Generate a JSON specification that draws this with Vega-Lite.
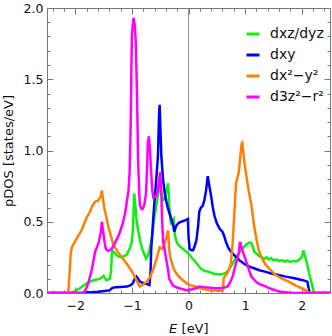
{
  "$schema": "https://vega.github.io/schema/vega-lite/v6.json",
  "width": 283,
  "height": 285,
  "autosize": {"type": "none"},
  "padding": {"left": 47, "top": 8, "right": 2, "bottom": 43},
  "config": {
    "font": "DejaVu Sans",
    "view": {"stroke": "#777", "strokeWidth": 1},
    "axis": {"domain": false, "grid": false, "tickColor": "#777", "labelColor": "#111", "titleColor": "#111", "labelFontSize": 12.5, "titleFontSize": 13, "titleFontWeight": "normal", "labelOverlap": false, "labelBound": false, "labelFlush": false},
    "legend": {"labelFontSize": 14, "labelColor": "#111"}
  },
  "datasets": {
    "curves": [
      {"E": -2.5, "pdos": 0, "orb": "dxz/dyz"},
      {"E": -2.1, "pdos": 0, "orb": "dxz/dyz"},
      {"E": -2.02, "pdos": 0.01, "orb": "dxz/dyz"},
      {"E": -1.92, "pdos": 0.033, "orb": "dxz/dyz"},
      {"E": -1.8, "pdos": 0.068, "orb": "dxz/dyz"},
      {"E": -1.68, "pdos": 0.09, "orb": "dxz/dyz"},
      {"E": -1.56, "pdos": 0.1, "orb": "dxz/dyz"},
      {"E": -1.5, "pdos": 0.12, "orb": "dxz/dyz"},
      {"E": -1.45, "pdos": 0.09, "orb": "dxz/dyz"},
      {"E": -1.39, "pdos": 0.1, "orb": "dxz/dyz"},
      {"E": -1.37, "pdos": 0.15, "orb": "dxz/dyz"},
      {"E": -1.35, "pdos": 0.3, "orb": "dxz/dyz"},
      {"E": -1.3, "pdos": 0.28, "orb": "dxz/dyz"},
      {"E": -1.24, "pdos": 0.255, "orb": "dxz/dyz"},
      {"E": -1.18, "pdos": 0.25, "orb": "dxz/dyz"},
      {"E": -1.09, "pdos": 0.27, "orb": "dxz/dyz"},
      {"E": -1.03, "pdos": 0.32, "orb": "dxz/dyz"},
      {"E": -1.0, "pdos": 0.36, "orb": "dxz/dyz"},
      {"E": -0.98, "pdos": 0.45, "orb": "dxz/dyz"},
      {"E": -0.96, "pdos": 0.7, "orb": "dxz/dyz"},
      {"E": -0.94, "pdos": 0.62, "orb": "dxz/dyz"},
      {"E": -0.92, "pdos": 0.52, "orb": "dxz/dyz"},
      {"E": -0.89, "pdos": 0.44, "orb": "dxz/dyz"},
      {"E": -0.85, "pdos": 0.36, "orb": "dxz/dyz"},
      {"E": -0.81, "pdos": 0.3, "orb": "dxz/dyz"},
      {"E": -0.75, "pdos": 0.24, "orb": "dxz/dyz"},
      {"E": -0.72, "pdos": 0.26, "orb": "dxz/dyz"},
      {"E": -0.69, "pdos": 0.3, "orb": "dxz/dyz"},
      {"E": -0.64, "pdos": 0.4, "orb": "dxz/dyz"},
      {"E": -0.6, "pdos": 0.54, "orb": "dxz/dyz"},
      {"E": -0.54, "pdos": 0.68, "orb": "dxz/dyz"},
      {"E": -0.51, "pdos": 0.76, "orb": "dxz/dyz"},
      {"E": -0.47, "pdos": 0.68, "orb": "dxz/dyz"},
      {"E": -0.45, "pdos": 0.65, "orb": "dxz/dyz"},
      {"E": -0.42, "pdos": 0.66, "orb": "dxz/dyz"},
      {"E": -0.38, "pdos": 0.74, "orb": "dxz/dyz"},
      {"E": -0.36, "pdos": 0.77, "orb": "dxz/dyz"},
      {"E": -0.34, "pdos": 0.61, "orb": "dxz/dyz"},
      {"E": -0.31, "pdos": 0.48, "orb": "dxz/dyz"},
      {"E": -0.28, "pdos": 0.51, "orb": "dxz/dyz"},
      {"E": -0.26, "pdos": 0.52, "orb": "dxz/dyz"},
      {"E": -0.24, "pdos": 0.4, "orb": "dxz/dyz"},
      {"E": -0.2, "pdos": 0.35, "orb": "dxz/dyz"},
      {"E": -0.16, "pdos": 0.33, "orb": "dxz/dyz"},
      {"E": -0.1, "pdos": 0.31, "orb": "dxz/dyz"},
      {"E": -0.04, "pdos": 0.29, "orb": "dxz/dyz"},
      {"E": 0.02, "pdos": 0.27, "orb": "dxz/dyz"},
      {"E": 0.05, "pdos": 0.25, "orb": "dxz/dyz"},
      {"E": 0.1, "pdos": 0.23, "orb": "dxz/dyz"},
      {"E": 0.14, "pdos": 0.21, "orb": "dxz/dyz"},
      {"E": 0.18, "pdos": 0.19, "orb": "dxz/dyz"},
      {"E": 0.22, "pdos": 0.17, "orb": "dxz/dyz"},
      {"E": 0.28, "pdos": 0.155, "orb": "dxz/dyz"},
      {"E": 0.34, "pdos": 0.15, "orb": "dxz/dyz"},
      {"E": 0.45, "pdos": 0.135, "orb": "dxz/dyz"},
      {"E": 0.55, "pdos": 0.13, "orb": "dxz/dyz"},
      {"E": 0.62, "pdos": 0.135, "orb": "dxz/dyz"},
      {"E": 0.66, "pdos": 0.14, "orb": "dxz/dyz"},
      {"E": 0.7, "pdos": 0.16, "orb": "dxz/dyz"},
      {"E": 0.75, "pdos": 0.185, "orb": "dxz/dyz"},
      {"E": 0.8, "pdos": 0.22, "orb": "dxz/dyz"},
      {"E": 0.84, "pdos": 0.255, "orb": "dxz/dyz"},
      {"E": 0.93, "pdos": 0.3, "orb": "dxz/dyz"},
      {"E": 1.02, "pdos": 0.34, "orb": "dxz/dyz"},
      {"E": 1.08, "pdos": 0.355, "orb": "dxz/dyz"},
      {"E": 1.11, "pdos": 0.35, "orb": "dxz/dyz"},
      {"E": 1.14, "pdos": 0.32, "orb": "dxz/dyz"},
      {"E": 1.16, "pdos": 0.29, "orb": "dxz/dyz"},
      {"E": 1.22, "pdos": 0.27, "orb": "dxz/dyz"},
      {"E": 1.26, "pdos": 0.255, "orb": "dxz/dyz"},
      {"E": 1.3, "pdos": 0.25, "orb": "dxz/dyz"},
      {"E": 1.34, "pdos": 0.24, "orb": "dxz/dyz"},
      {"E": 1.38, "pdos": 0.25, "orb": "dxz/dyz"},
      {"E": 1.42, "pdos": 0.235, "orb": "dxz/dyz"},
      {"E": 1.46, "pdos": 0.245, "orb": "dxz/dyz"},
      {"E": 1.5, "pdos": 0.23, "orb": "dxz/dyz"},
      {"E": 1.55, "pdos": 0.235, "orb": "dxz/dyz"},
      {"E": 1.6, "pdos": 0.225, "orb": "dxz/dyz"},
      {"E": 1.65, "pdos": 0.23, "orb": "dxz/dyz"},
      {"E": 1.7, "pdos": 0.22, "orb": "dxz/dyz"},
      {"E": 1.75, "pdos": 0.228, "orb": "dxz/dyz"},
      {"E": 1.8, "pdos": 0.218, "orb": "dxz/dyz"},
      {"E": 1.85, "pdos": 0.225, "orb": "dxz/dyz"},
      {"E": 1.9, "pdos": 0.222, "orb": "dxz/dyz"},
      {"E": 1.95, "pdos": 0.232, "orb": "dxz/dyz"},
      {"E": 1.99, "pdos": 0.245, "orb": "dxz/dyz"},
      {"E": 2.02, "pdos": 0.28, "orb": "dxz/dyz"},
      {"E": 2.03, "pdos": 0.3, "orb": "dxz/dyz"},
      {"E": 2.05, "pdos": 0.27, "orb": "dxz/dyz"},
      {"E": 2.08, "pdos": 0.23, "orb": "dxz/dyz"},
      {"E": 2.13, "pdos": 0.14, "orb": "dxz/dyz"},
      {"E": 2.19, "pdos": 0.045, "orb": "dxz/dyz"},
      {"E": 2.22, "pdos": 0, "orb": "dxz/dyz"},
      {"E": 2.5, "pdos": 0, "orb": "dxz/dyz"},

      {"E": -2.5, "pdos": 0, "orb": "dxy"},
      {"E": -1.9, "pdos": 0, "orb": "dxy"},
      {"E": -1.8, "pdos": 0.003, "orb": "dxy"},
      {"E": -1.6, "pdos": 0.008, "orb": "dxy"},
      {"E": -1.45, "pdos": 0.015, "orb": "dxy"},
      {"E": -1.39, "pdos": 0.02, "orb": "dxy"},
      {"E": -1.35, "pdos": 0.035, "orb": "dxy"},
      {"E": -1.3, "pdos": 0.04, "orb": "dxy"},
      {"E": -1.2, "pdos": 0.042, "orb": "dxy"},
      {"E": -1.09, "pdos": 0.045, "orb": "dxy"},
      {"E": -1.02, "pdos": 0.055, "orb": "dxy"},
      {"E": -0.98, "pdos": 0.07, "orb": "dxy"},
      {"E": -0.95, "pdos": 0.1, "orb": "dxy"},
      {"E": -0.92, "pdos": 0.115, "orb": "dxy"},
      {"E": -0.89, "pdos": 0.1, "orb": "dxy"},
      {"E": -0.86, "pdos": 0.08, "orb": "dxy"},
      {"E": -0.8, "pdos": 0.07, "orb": "dxy"},
      {"E": -0.75, "pdos": 0.065, "orb": "dxy"},
      {"E": -0.69, "pdos": 0.056, "orb": "dxy"},
      {"E": -0.67, "pdos": 0.15, "orb": "dxy"},
      {"E": -0.66, "pdos": 0.3, "orb": "dxy"},
      {"E": -0.63, "pdos": 0.48, "orb": "dxy"},
      {"E": -0.6, "pdos": 0.65, "orb": "dxy"},
      {"E": -0.56, "pdos": 0.85, "orb": "dxy"},
      {"E": -0.54, "pdos": 0.96, "orb": "dxy"},
      {"E": -0.52, "pdos": 1.25, "orb": "dxy"},
      {"E": -0.51, "pdos": 1.32, "orb": "dxy"},
      {"E": -0.5, "pdos": 1.2, "orb": "dxy"},
      {"E": -0.48, "pdos": 0.96, "orb": "dxy"},
      {"E": -0.45, "pdos": 0.8, "orb": "dxy"},
      {"E": -0.42, "pdos": 0.7, "orb": "dxy"},
      {"E": -0.39, "pdos": 0.64, "orb": "dxy"},
      {"E": -0.36, "pdos": 0.59, "orb": "dxy"},
      {"E": -0.32, "pdos": 0.54, "orb": "dxy"},
      {"E": -0.28, "pdos": 0.49, "orb": "dxy"},
      {"E": -0.25, "pdos": 0.43, "orb": "dxy"},
      {"E": -0.22, "pdos": 0.47, "orb": "dxy"},
      {"E": -0.18, "pdos": 0.49, "orb": "dxy"},
      {"E": -0.13, "pdos": 0.5, "orb": "dxy"},
      {"E": -0.06, "pdos": 0.51, "orb": "dxy"},
      {"E": -0.01, "pdos": 0.52, "orb": "dxy"},
      {"E": 0.0, "pdos": 0.4, "orb": "dxy"},
      {"E": 0.02, "pdos": 0.31, "orb": "dxy"},
      {"E": 0.05, "pdos": 0.3, "orb": "dxy"},
      {"E": 0.08, "pdos": 0.3, "orb": "dxy"},
      {"E": 0.11, "pdos": 0.33, "orb": "dxy"},
      {"E": 0.14, "pdos": 0.37, "orb": "dxy"},
      {"E": 0.17, "pdos": 0.47, "orb": "dxy"},
      {"E": 0.19, "pdos": 0.57, "orb": "dxy"},
      {"E": 0.22, "pdos": 0.6, "orb": "dxy"},
      {"E": 0.25, "pdos": 0.61, "orb": "dxy"},
      {"E": 0.28, "pdos": 0.65, "orb": "dxy"},
      {"E": 0.31, "pdos": 0.72, "orb": "dxy"},
      {"E": 0.34, "pdos": 0.82, "orb": "dxy"},
      {"E": 0.36, "pdos": 0.77, "orb": "dxy"},
      {"E": 0.4, "pdos": 0.68, "orb": "dxy"},
      {"E": 0.43, "pdos": 0.6, "orb": "dxy"},
      {"E": 0.46, "pdos": 0.54, "orb": "dxy"},
      {"E": 0.5, "pdos": 0.49, "orb": "dxy"},
      {"E": 0.55, "pdos": 0.45, "orb": "dxy"},
      {"E": 0.6, "pdos": 0.43, "orb": "dxy"},
      {"E": 0.63, "pdos": 0.4, "orb": "dxy"},
      {"E": 0.66, "pdos": 0.36, "orb": "dxy"},
      {"E": 0.7, "pdos": 0.32, "orb": "dxy"},
      {"E": 0.75, "pdos": 0.29, "orb": "dxy"},
      {"E": 0.82, "pdos": 0.26, "orb": "dxy"},
      {"E": 0.9, "pdos": 0.23, "orb": "dxy"},
      {"E": 1.0, "pdos": 0.2, "orb": "dxy"},
      {"E": 1.08, "pdos": 0.185, "orb": "dxy"},
      {"E": 1.18, "pdos": 0.17, "orb": "dxy"},
      {"E": 1.25, "pdos": 0.16, "orb": "dxy"},
      {"E": 1.35, "pdos": 0.15, "orb": "dxy"},
      {"E": 1.43, "pdos": 0.14, "orb": "dxy"},
      {"E": 1.55, "pdos": 0.13, "orb": "dxy"},
      {"E": 1.72, "pdos": 0.115, "orb": "dxy"},
      {"E": 1.85, "pdos": 0.105, "orb": "dxy"},
      {"E": 2.02, "pdos": 0.09, "orb": "dxy"},
      {"E": 2.1, "pdos": 0.08, "orb": "dxy"},
      {"E": 2.12, "pdos": 0.04, "orb": "dxy"},
      {"E": 2.14, "pdos": 0, "orb": "dxy"},
      {"E": 2.5, "pdos": 0, "orb": "dxy"},

      {"E": -2.5, "pdos": 0, "orb": "dx²−y²"},
      {"E": -2.14, "pdos": 0, "orb": "dx²−y²"},
      {"E": -2.12, "pdos": 0.02, "orb": "dx²−y²"},
      {"E": -2.1, "pdos": 0.15, "orb": "dx²−y²"},
      {"E": -2.08, "pdos": 0.28, "orb": "dx²−y²"},
      {"E": -2.06, "pdos": 0.32, "orb": "dx²−y²"},
      {"E": -2.02, "pdos": 0.35, "orb": "dx²−y²"},
      {"E": -1.98, "pdos": 0.38, "orb": "dx²−y²"},
      {"E": -1.92, "pdos": 0.42, "orb": "dx²−y²"},
      {"E": -1.89, "pdos": 0.44, "orb": "dx²−y²"},
      {"E": -1.84, "pdos": 0.49, "orb": "dx²−y²"},
      {"E": -1.8, "pdos": 0.53, "orb": "dx²−y²"},
      {"E": -1.74, "pdos": 0.57, "orb": "dx²−y²"},
      {"E": -1.7, "pdos": 0.61, "orb": "dx²−y²"},
      {"E": -1.65, "pdos": 0.64, "orb": "dx²−y²"},
      {"E": -1.59, "pdos": 0.65, "orb": "dx²−y²"},
      {"E": -1.55, "pdos": 0.68, "orb": "dx²−y²"},
      {"E": -1.53, "pdos": 0.72, "orb": "dx²−y²"},
      {"E": -1.51, "pdos": 0.66, "orb": "dx²−y²"},
      {"E": -1.49, "pdos": 0.6, "orb": "dx²−y²"},
      {"E": -1.45, "pdos": 0.53, "orb": "dx²−y²"},
      {"E": -1.42, "pdos": 0.47, "orb": "dx²−y²"},
      {"E": -1.37, "pdos": 0.4, "orb": "dx²−y²"},
      {"E": -1.33, "pdos": 0.34, "orb": "dx²−y²"},
      {"E": -1.25, "pdos": 0.29, "orb": "dx²−y²"},
      {"E": -1.18, "pdos": 0.25, "orb": "dx²−y²"},
      {"E": -1.1, "pdos": 0.21, "orb": "dx²−y²"},
      {"E": -1.03, "pdos": 0.17, "orb": "dx²−y²"},
      {"E": -0.97, "pdos": 0.13, "orb": "dx²−y²"},
      {"E": -0.92, "pdos": 0.09, "orb": "dx²−y²"},
      {"E": -0.86, "pdos": 0.045, "orb": "dx²−y²"},
      {"E": -0.8, "pdos": 0.06, "orb": "dx²−y²"},
      {"E": -0.74, "pdos": 0.08, "orb": "dx²−y²"},
      {"E": -0.69, "pdos": 0.105, "orb": "dx²−y²"},
      {"E": -0.63, "pdos": 0.16, "orb": "dx²−y²"},
      {"E": -0.57, "pdos": 0.23, "orb": "dx²−y²"},
      {"E": -0.51, "pdos": 0.32, "orb": "dx²−y²"},
      {"E": -0.47, "pdos": 0.31, "orb": "dx²−y²"},
      {"E": -0.43, "pdos": 0.34, "orb": "dx²−y²"},
      {"E": -0.39, "pdos": 0.39, "orb": "dx²−y²"},
      {"E": -0.36, "pdos": 0.44, "orb": "dx²−y²"},
      {"E": -0.34, "pdos": 0.3, "orb": "dx²−y²"},
      {"E": -0.31, "pdos": 0.23, "orb": "dx²−y²"},
      {"E": -0.26, "pdos": 0.17, "orb": "dx²−y²"},
      {"E": -0.22, "pdos": 0.14, "orb": "dx²−y²"},
      {"E": -0.16, "pdos": 0.11, "orb": "dx²−y²"},
      {"E": -0.1, "pdos": 0.09, "orb": "dx²−y²"},
      {"E": -0.04, "pdos": 0.07, "orb": "dx²−y²"},
      {"E": 0.02, "pdos": 0.055, "orb": "dx²−y²"},
      {"E": 0.08, "pdos": 0.05, "orb": "dx²−y²"},
      {"E": 0.14, "pdos": 0.045, "orb": "dx²−y²"},
      {"E": 0.2, "pdos": 0.035, "orb": "dx²−y²"},
      {"E": 0.3, "pdos": 0.025, "orb": "dx²−y²"},
      {"E": 0.37, "pdos": 0.02, "orb": "dx²−y²"},
      {"E": 0.5, "pdos": 0.015, "orb": "dx²−y²"},
      {"E": 0.58, "pdos": 0.015, "orb": "dx²−y²"},
      {"E": 0.61, "pdos": 0.02, "orb": "dx²−y²"},
      {"E": 0.62, "pdos": 0.1, "orb": "dx²−y²"},
      {"E": 0.63, "pdos": 0.11, "orb": "dx²−y²"},
      {"E": 0.69, "pdos": 0.14, "orb": "dx²−y²"},
      {"E": 0.72, "pdos": 0.17, "orb": "dx²−y²"},
      {"E": 0.75, "pdos": 0.21, "orb": "dx²−y²"},
      {"E": 0.78, "pdos": 0.35, "orb": "dx²−y²"},
      {"E": 0.81, "pdos": 0.56, "orb": "dx²−y²"},
      {"E": 0.84, "pdos": 0.77, "orb": "dx²−y²"},
      {"E": 0.89, "pdos": 0.85, "orb": "dx²−y²"},
      {"E": 0.92, "pdos": 0.98, "orb": "dx²−y²"},
      {"E": 0.94, "pdos": 1.05, "orb": "dx²−y²"},
      {"E": 0.95, "pdos": 1.055, "orb": "dx²−y²"},
      {"E": 0.97, "pdos": 0.98, "orb": "dx²−y²"},
      {"E": 0.99, "pdos": 0.91, "orb": "dx²−y²"},
      {"E": 1.05, "pdos": 0.75, "orb": "dx²−y²"},
      {"E": 1.08, "pdos": 0.68, "orb": "dx²−y²"},
      {"E": 1.11, "pdos": 0.62, "orb": "dx²−y²"},
      {"E": 1.16, "pdos": 0.47, "orb": "dx²−y²"},
      {"E": 1.2, "pdos": 0.38, "orb": "dx²−y²"},
      {"E": 1.24, "pdos": 0.3, "orb": "dx²−y²"},
      {"E": 1.3, "pdos": 0.24, "orb": "dx²−y²"},
      {"E": 1.36, "pdos": 0.2, "orb": "dx²−y²"},
      {"E": 1.45, "pdos": 0.16, "orb": "dx²−y²"},
      {"E": 1.53, "pdos": 0.13, "orb": "dx²−y²"},
      {"E": 1.65, "pdos": 0.1, "orb": "dx²−y²"},
      {"E": 1.77, "pdos": 0.08, "orb": "dx²−y²"},
      {"E": 1.9, "pdos": 0.05, "orb": "dx²−y²"},
      {"E": 2.0, "pdos": 0.035, "orb": "dx²−y²"},
      {"E": 2.06, "pdos": 0.02, "orb": "dx²−y²"},
      {"E": 2.12, "pdos": 0.005, "orb": "dx²−y²"},
      {"E": 2.18, "pdos": 0, "orb": "dx²−y²"},
      {"E": 2.5, "pdos": 0, "orb": "dx²−y²"},

      {"E": -2.5, "pdos": 0, "orb": "d3z²−r²"},
      {"E": -1.86, "pdos": 0, "orb": "d3z²−r²"},
      {"E": -1.82, "pdos": 0.02, "orb": "d3z²−r²"},
      {"E": -1.77, "pdos": 0.07, "orb": "d3z²−r²"},
      {"E": -1.71, "pdos": 0.16, "orb": "d3z²−r²"},
      {"E": -1.65, "pdos": 0.29, "orb": "d3z²−r²"},
      {"E": -1.59, "pdos": 0.35, "orb": "d3z²−r²"},
      {"E": -1.55, "pdos": 0.42, "orb": "d3z²−r²"},
      {"E": -1.53, "pdos": 0.5, "orb": "d3z²−r²"},
      {"E": -1.51, "pdos": 0.44, "orb": "d3z²−r²"},
      {"E": -1.48, "pdos": 0.35, "orb": "d3z²−r²"},
      {"E": -1.46, "pdos": 0.31, "orb": "d3z²−r²"},
      {"E": -1.42, "pdos": 0.295, "orb": "d3z²−r²"},
      {"E": -1.39, "pdos": 0.3, "orb": "d3z²−r²"},
      {"E": -1.34, "pdos": 0.32, "orb": "d3z²−r²"},
      {"E": -1.3, "pdos": 0.35, "orb": "d3z²−r²"},
      {"E": -1.25, "pdos": 0.39, "orb": "d3z²−r²"},
      {"E": -1.21, "pdos": 0.43, "orb": "d3z²−r²"},
      {"E": -1.16, "pdos": 0.49, "orb": "d3z²−r²"},
      {"E": -1.12, "pdos": 0.56, "orb": "d3z²−r²"},
      {"E": -1.09, "pdos": 0.64, "orb": "d3z²−r²"},
      {"E": -1.06, "pdos": 0.72, "orb": "d3z²−r²"},
      {"E": -1.04, "pdos": 0.85, "orb": "d3z²−r²"},
      {"E": -1.02, "pdos": 1.2, "orb": "d3z²−r²"},
      {"E": -1.01, "pdos": 1.55, "orb": "d3z²−r²"},
      {"E": -1.0, "pdos": 1.8, "orb": "d3z²−r²"},
      {"E": -0.98, "pdos": 1.9, "orb": "d3z²−r²"},
      {"E": -0.97, "pdos": 1.93, "orb": "d3z²−r²"},
      {"E": -0.95, "pdos": 1.88, "orb": "d3z²−r²"},
      {"E": -0.93, "pdos": 1.75, "orb": "d3z²−r²"},
      {"E": -0.91, "pdos": 1.4, "orb": "d3z²−r²"},
      {"E": -0.89, "pdos": 0.93, "orb": "d3z²−r²"},
      {"E": -0.87, "pdos": 0.7, "orb": "d3z²−r²"},
      {"E": -0.86, "pdos": 0.62, "orb": "d3z²−r²"},
      {"E": -0.83, "pdos": 0.59, "orb": "d3z²−r²"},
      {"E": -0.81, "pdos": 0.59, "orb": "d3z²−r²"},
      {"E": -0.78, "pdos": 0.62, "orb": "d3z²−r²"},
      {"E": -0.75, "pdos": 0.7, "orb": "d3z²−r²"},
      {"E": -0.73, "pdos": 0.9, "orb": "d3z²−r²"},
      {"E": -0.72, "pdos": 1.05, "orb": "d3z²−r²"},
      {"E": -0.7, "pdos": 1.1, "orb": "d3z²−r²"},
      {"E": -0.68, "pdos": 1.0, "orb": "d3z²−r²"},
      {"E": -0.66, "pdos": 0.85, "orb": "d3z²−r²"},
      {"E": -0.64, "pdos": 0.72, "orb": "d3z²−r²"},
      {"E": -0.62, "pdos": 0.67, "orb": "d3z²−r²"},
      {"E": -0.57, "pdos": 0.68, "orb": "d3z²−r²"},
      {"E": -0.54, "pdos": 0.72, "orb": "d3z²−r²"},
      {"E": -0.51, "pdos": 0.82, "orb": "d3z²−r²"},
      {"E": -0.5, "pdos": 0.85, "orb": "d3z²−r²"},
      {"E": -0.48, "pdos": 0.7, "orb": "d3z²−r²"},
      {"E": -0.47, "pdos": 0.56, "orb": "d3z²−r²"},
      {"E": -0.45, "pdos": 0.37, "orb": "d3z²−r²"},
      {"E": -0.42, "pdos": 0.3, "orb": "d3z²−r²"},
      {"E": -0.39, "pdos": 0.23, "orb": "d3z²−r²"},
      {"E": -0.36, "pdos": 0.16, "orb": "d3z²−r²"},
      {"E": -0.34, "pdos": 0.1, "orb": "d3z²−r²"},
      {"E": -0.28, "pdos": 0.056, "orb": "d3z²−r²"},
      {"E": -0.22, "pdos": 0.04, "orb": "d3z²−r²"},
      {"E": -0.16, "pdos": 0.033, "orb": "d3z²−r²"},
      {"E": -0.04, "pdos": 0.02, "orb": "d3z²−r²"},
      {"E": 0.05, "pdos": 0.025, "orb": "d3z²−r²"},
      {"E": 0.14, "pdos": 0.035, "orb": "d3z²−r²"},
      {"E": 0.19, "pdos": 0.045, "orb": "d3z²−r²"},
      {"E": 0.3, "pdos": 0.04, "orb": "d3z²−r²"},
      {"E": 0.45, "pdos": 0.035, "orb": "d3z²−r²"},
      {"E": 0.55, "pdos": 0.033, "orb": "d3z²−r²"},
      {"E": 0.65, "pdos": 0.04, "orb": "d3z²−r²"},
      {"E": 0.69, "pdos": 0.045, "orb": "d3z²−r²"},
      {"E": 0.73, "pdos": 0.07, "orb": "d3z²−r²"},
      {"E": 0.78, "pdos": 0.115, "orb": "d3z²−r²"},
      {"E": 0.84, "pdos": 0.21, "orb": "d3z²−r²"},
      {"E": 0.89, "pdos": 0.28, "orb": "d3z²−r²"},
      {"E": 0.91, "pdos": 0.36, "orb": "d3z²−r²"},
      {"E": 0.93, "pdos": 0.33, "orb": "d3z²−r²"},
      {"E": 0.95, "pdos": 0.3, "orb": "d3z²−r²"},
      {"E": 0.99, "pdos": 0.255, "orb": "d3z²−r²"},
      {"E": 1.05, "pdos": 0.185, "orb": "d3z²−r²"},
      {"E": 1.11, "pdos": 0.115, "orb": "d3z²−r²"},
      {"E": 1.19, "pdos": 0.08, "orb": "d3z²−r²"},
      {"E": 1.25, "pdos": 0.063, "orb": "d3z²−r²"},
      {"E": 1.37, "pdos": 0.045, "orb": "d3z²−r²"},
      {"E": 1.43, "pdos": 0.033, "orb": "d3z²−r²"},
      {"E": 1.6, "pdos": 0.01, "orb": "d3z²−r²"},
      {"E": 1.83, "pdos": 0, "orb": "d3z²−r²"},
      {"E": 2.5, "pdos": 0, "orb": "d3z²−r²"}
    ],
    "zero": [{"E": 0}]
  },
  "layer": [
    {
      "data": {"name": "zero"},
      "mark": {"type": "rule", "color": "#999", "strokeWidth": 1},
      "encoding": {
        "x": {"field": "E", "type": "quantitative", "axis": null, "scale": {"domain": [-2.5, 2.5], "nice": false, "zero": false}}
      }
    },
    {
      "data": {"name": "curves"},
      "transform": [{"filter": "datum.orb === 'dxz/dyz' || datum.orb === 'dxy'"}],
      "mark": {"type": "line", "strokeWidth": 2.5, "clip": true},
      "encoding": {
        "x": {
          "field": "E", "type": "quantitative",
          "scale": {"domain": [-2.5, 2.5], "nice": false, "zero": false},
          "axis": {
            "orient": "bottom", "title": "𝘌 [eV]", "titlePadding": 8,
            "values": [-2.4, -2.2, -2, -1.8, -1.6, -1.4, -1.2, -1, -0.8, -0.6, -0.4, -0.2, 0, 0.2, 0.4, 0.6, 0.8, 1, 1.2, 1.4, 1.6, 1.8, 2, 2.2, 2.4],
            "tickSize": {"condition": {"test": "abs(datum.value - round(datum.value)) < 0.001", "value": -6}, "value": -3},
            "labelExpr": "abs(datum.value - round(datum.value)) < 0.001 ? format(datum.value, 'd') : ''",
            "labelPadding": 12
          }
        },
        "y": {
          "field": "pdos", "type": "quantitative",
          "scale": {"domain": [0, 2], "nice": false},
          "axis": {
            "orient": "left", "title": "pDOS  [states/eV]", "titlePadding": 8,
            "values": [0, 0.1, 0.2, 0.3, 0.4, 0.5, 0.6, 0.7, 0.8, 0.9, 1, 1.1, 1.2, 1.3, 1.4, 1.5, 1.6, 1.7, 1.8, 1.9, 2],
            "tickSize": {"condition": {"test": "abs(datum.value * 2 - round(datum.value * 2)) < 0.001", "value": -6}, "value": -3},
            "labelExpr": "abs(datum.value * 2 - round(datum.value * 2)) < 0.001 ? format(datum.value, '.1f') : ''",
            "labelPadding": 10
          }
        },
        "color": {
          "field": "orb", "type": "nominal",
          "scale": {"domain": ["dxz/dyz", "dxy", "dx²−y²", "d3z²−r²"], "range": ["#10f010", "#0000ff", "#ff8000", "#ff00ff"]},
          "legend": {"title": null, "orient": "none", "legendX": 198, "legendY": 18, "symbolType": "stroke", "symbolSize": 169, "symbolStrokeWidth": 3, "rowPadding": 6, "labelOffset": 9}
        }
      }
    },
    {
      "data": {"name": "curves"},
      "transform": [{"filter": "datum.orb === 'dx²−y²' || datum.orb === 'd3z²−r²'"}],
      "mark": {"type": "line", "strokeWidth": 2.5, "clip": true},
      "encoding": {
        "x": {
          "field": "E", "type": "quantitative",
          "axis": {
            "orient": "top", "title": null, "labels": false,
            "values": [-2.4, -2.2, -2, -1.8, -1.6, -1.4, -1.2, -1, -0.8, -0.6, -0.4, -0.2, 0, 0.2, 0.4, 0.6, 0.8, 1, 1.2, 1.4, 1.6, 1.8, 2, 2.2, 2.4],
            "tickSize": {"condition": {"test": "abs(datum.value - round(datum.value)) < 0.001", "value": -6}, "value": -3}
          }
        },
        "y": {
          "field": "pdos", "type": "quantitative",
          "axis": {
            "orient": "right", "title": null, "labels": false,
            "values": [0, 0.1, 0.2, 0.3, 0.4, 0.5, 0.6, 0.7, 0.8, 0.9, 1, 1.1, 1.2, 1.3, 1.4, 1.5, 1.6, 1.7, 1.8, 1.9, 2],
            "tickSize": {"condition": {"test": "abs(datum.value * 2 - round(datum.value * 2)) < 0.001", "value": -6}, "value": -3}
          }
        },
        "color": {"field": "orb", "type": "nominal"}
      }
    }
  ]
}
